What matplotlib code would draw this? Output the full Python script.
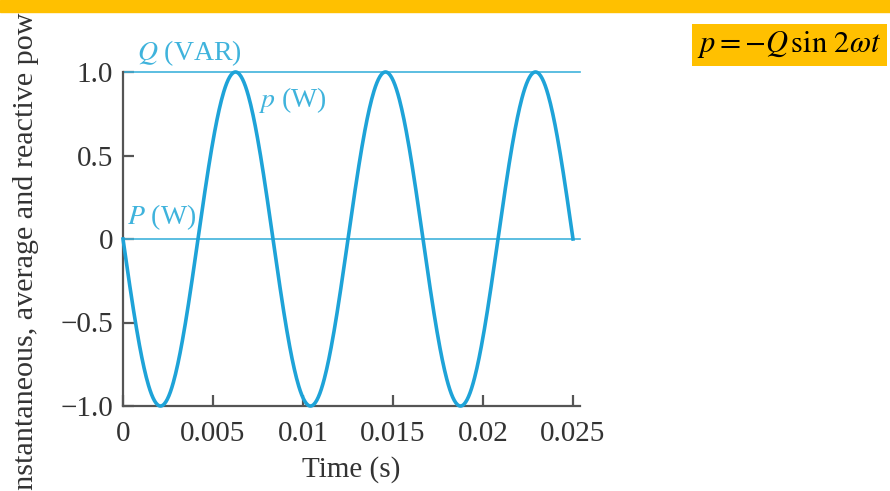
import numpy as np
import matplotlib
matplotlib.use("Agg")
from matplotlib import pyplot as plt

# values
Q = 1.0            # reactive power, VAR
P = 0.0            # average power, W
f = 60.0           # supply frequency, Hz  (p has period 1/120 s)
t_end = 0.025
xticks = [0, 0.005, 0.01, 0.015, 0.02, 0.025]
xtick_labels = ["0", "0.005", "0.01", "0.015", "0.02", "0.025"]
yticks = [-1.0, -0.5, 0, 0.5, 1.0]
ytick_labels = ["\u22121.0", "\u22120.5", "0", "0.5", "1.0"]

plt.rcParams['font.family'] = ['Liberation Serif', 'DejaVu Serif']
plt.rcParams['mathtext.fontset'] = 'stix'

blue = '#1ea3d8'
light = '#3fb3dc'
grey = '#555555'

fig = plt.figure(figsize=(8.9, 4.91), dpi=100)
ax = fig.add_axes([123/890, 85/491, 457/890, 334/491])

# p = -Q sin(2wt), w = 2*pi*f
t = np.linspace(0, t_end, 600)
w = 2*np.pi*f
p = -Q*np.sin(2*w*t)

ax.plot(t, p, color=blue, lw=2.6, clip_on=False, zorder=3)
ax.axhline(Q, color=light, lw=1.2, clip_on=False)
ax.axhline(P, color=light, lw=1.2, clip_on=False)

ax.set_xlim(0, t_end*457/450)
ax.set_ylim(-1.0, 1.0)
for s in ['top', 'right']:
    ax.spines[s].set_visible(False)
for s in ['left', 'bottom']:
    ax.spines[s].set_color(grey)
    ax.spines[s].set_linewidth(1.6)
ax.set_xticks(xticks)
ax.set_xticklabels(xtick_labels)
ax.set_yticks(yticks)
ax.set_yticklabels(ytick_labels)
ax.tick_params(direction='in', length=8, width=1.6, color=grey,
               labelsize=21, labelcolor='#333333')
ax.tick_params(axis='x', pad=11)
ax.tick_params(axis='y', pad=7)
ax.set_xlabel("Time (s)", fontsize=21, color='#333333', labelpad=6)

# curve labels
ax.text(0.0008, 1.025, r"$Q$ (VAR)", color=light, fontsize=20, va='bottom')
ax.text(0.0075, 0.83, r"$p$ (W)", color=light, fontsize=20, va='center')
ax.text(0.0002, 0.04, r"$P$ (W)", color=light, fontsize=20, va='bottom')

# y label, cut off at both ends like the source
fig.text(0.029, 0.502, "Instantaneous, average and reactive power", rotation=90,
         fontsize=21.7, color='#333333', ha='center', va='center')

# yellow band at top and formula box
fig.patches.append(plt.Rectangle((0, 1 - 12/491), 1, 12/491, transform=fig.transFigure,
                                 color='#ffc000', zorder=5))
fig.text(697/890, 1 - 45/491, r"$p = -Q\,\sin\,2\omega t$", fontsize=22, va='center',
         ha='left', bbox=dict(facecolor='#ffc000', edgecolor='none', pad=4))

fig.savefig("out.png", dpi=100)
